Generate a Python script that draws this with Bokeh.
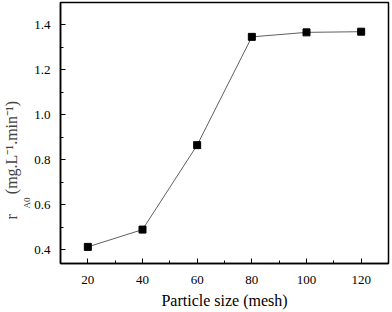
from bokeh.plotting import figure
from bokeh.models import FixedTicker, Range1d, Title, CustomJSTickFormatter
from bokeh.embed import file_html
from bokeh.resources import INLINE

sizes = [20, 40, 60, 80, 100, 120]
rates = [0.412, 0.489, 0.865, 1.347, 1.367, 1.370]
x_ticks = [20, 40, 60, 80, 100, 120]
x_minor = [10, 30, 50, 70, 90, 110, 130]
y_ticks = [0.4, 0.6, 0.8, 1.0, 1.2, 1.4]
y_minor = [0.3, 0.5, 0.7, 0.9, 1.1, 1.3, 1.5]

FONT = "'Liberation Serif'"

p = figure(width=392, height=312, output_backend="svg", toolbar_location=None,
           x_range=Range1d(10, 130), y_range=Range1d(0.338, 1.5),
           min_border_left=58, min_border_right=4, min_border_top=2, min_border_bottom=49)
p.grid.visible = False
p.outline_line_color = "black"
p.outline_line_width = 1.5
p.background_fill_color = "white"
p.border_fill_color = "white"

p.line(sizes, rates, line_color="#606060", line_width=1)
p.scatter(sizes, rates, marker="square", size=7, color="black")

for ax, maj, mnr in ((p.xaxis[0], x_ticks, x_minor), (p.yaxis[0], y_ticks, y_minor)):
    ax.ticker = FixedTicker(ticks=maj, minor_ticks=mnr)
    ax.major_tick_in = 5
    ax.major_tick_out = 0
    ax.minor_tick_in = 3
    ax.minor_tick_out = 0
    ax.axis_line_width = 1.5
    ax.major_tick_line_width = 1
    ax.major_label_text_font = FONT
    ax.major_label_text_font_size = "13px"
    ax.major_label_text_color = "black"
    ax.axis_label_text_font = FONT
    ax.axis_label_text_font_style = "normal"
    ax.axis_label_text_color = "black"

p.xaxis.major_label_standoff = 12
p.yaxis.major_label_standoff = 10
p.yaxis.formatter = CustomJSTickFormatter(code="return tick.toFixed(1);")
p.xaxis.axis_label = "Particle size (mesh)"
p.xaxis.axis_label_text_font_size = "16px"
p.xaxis.axis_label_standoff = 5

# y-axis title: "r" with subscript "A0", then the unit
p.add_layout(Title(text="A0", align="left", offset=55, standoff=0,
                   text_font=FONT, text_font_size="9px", text_font_style="normal"), "left")
p.add_layout(Title(text="r\u00a0\u00a0\u00a0\u00a0\u00a0(mg.L\u207b\u00b9.min\u207b\u00b9)",
                   align="left", offset=44, standoff=0,
                   text_font=FONT, text_font_size="16px", text_font_style="normal"), "left")

open("out.html", "w").write(file_html(p, INLINE))
